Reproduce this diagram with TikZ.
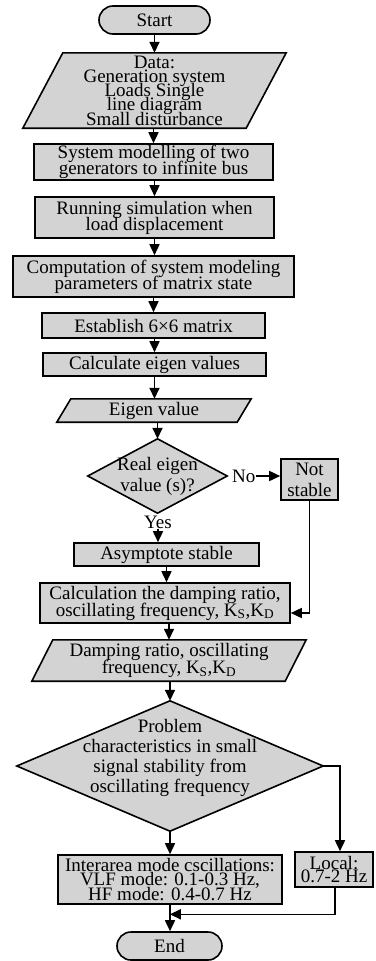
\documentclass[tikz,border=0pt]{standalone}
\usepackage{fontspec}
\setmainfont{Liberation Serif}
\usetikzlibrary{arrows.meta,backgrounds,calc}
\definecolor{boxgray}{HTML}{D3D3D3}
\newcommand{\fs}[1]{\fontsize{19}{#1}\selectfont\lineskiplimit=-40pt\lineskip=0pt}
\begin{document}
\begin{tikzpicture}[x=1pt,y=-1pt,
  every node/.style={font=\fs{16}},
  box/.style={draw, fill=boxgray, line width=1.6pt, inner sep=0pt, align=center, rectangle},
  term/.style={box, rounded corners=14pt},
  holder/.style={inner sep=0pt, align=center, rectangle},
  shp/.style={draw, fill=boxgray, line width=1.6pt, line join=miter},
  arr/.style={line width=1.6pt, -{Triangle[length=11pt,width=10pt]}},
  lbl/.style={inner sep=0pt}
]
\useasboundingbox (0,0) rectangle (375,961);

% nodes
\node[term, minimum width=111pt, minimum height=28pt] (start) at (154.5,20) {Start};
\node[holder, minimum width=263pt, minimum height=75pt, font=\fs{14.3}] (data) at (154.5,90.5)
  {Data:\\Generation system\\Loads Single\\line diagram\\Small disturbance};
\node[box, minimum width=239pt, minimum height=36pt] (b1) at (153.5,162)
  {System modelling of two\\generators to infinite bus};
\node[box, minimum width=239pt, minimum height=41pt] (b2) at (154.5,217.5)
  {Running simulation when\\load displacement};
\node[box, minimum width=281pt, minimum height=41pt] (b3) at (153.5,276.5)
  {Computation of system modeling\\parameters of matrix state};
\node[box, minimum width=223pt, minimum height=25pt] (b4) at (153.5,325.5)
  {Establish 6×6 matrix};
\node[box, minimum width=223pt, minimum height=23pt] (b5) at (154.5,364.5)
  {Calculate eigen values};
\node[holder, minimum width=194pt, minimum height=23pt] (eig) at (154,410.5)
  {Eigen value};
\node[holder, minimum width=139pt, minimum height=74pt, font=\fs{21}] (d1) at (157.5,476)
  {Real eigen\\value (s)?};
\node[lbl, anchor=west] (no) at (232,476) {No};
\node[box, minimum width=57pt, minimum height=41pt, font=\fs{21}] (ns) at (309.5,479.5)
  {Not\\stable};
\node[lbl] (yes) at (158,522) {Yes};
\node[box, minimum width=185pt, minimum height=23pt] (asym) at (166.5,554.5)
  {Asymptote stable};
\node[box, minimum width=250pt, minimum height=40pt, font=\fs{17}] (calc) at (165,603)
  {Calculation the damping ratio,\\oscillating frequency, K\textsubscript{S},K\textsubscript{D}};
\node[holder, minimum width=274pt, minimum height=41pt, font=\fs{17}] (damp) at (169,660.5)
  {Damping ratio, oscillating\\frequency, K\textsubscript{S},K\textsubscript{D}};
\node[holder, minimum width=306pt, minimum height=130pt] (d2) at (170,766) {};
\node[box, minimum width=224pt, minimum height=49pt, font=\fs{14.5}] (inter) at (170,879.5)
  {Interarea mode cscillations:\\VLF mode: 0.1-0.3 Hz,\\HF mode: 0.4-0.7 Hz};
\node[box, minimum width=78pt, minimum height=35pt, font=\fs{13.5}] (local) at (334,869.5)
  {Local:\\0.7-2 Hz};
\node[term, minimum width=105pt, minimum height=28pt] (end) at (169.5,946) {End};

% shapes drawn behind text
\begin{scope}[on background layer]
  \draw[shp] ([xshift=40pt]data.north west) -- (data.north east)
     -- ([xshift=-40pt]data.south east) -- (data.south west) -- cycle;
  \draw[shp] ([xshift=14pt]eig.north west) -- (eig.north east)
     -- ([xshift=-14pt]eig.south east) -- (eig.south west) -- cycle;
  \draw[shp] ([xshift=21pt]damp.north west) -- (damp.north east)
     -- ([xshift=-21pt]damp.south east) -- (damp.south west) -- cycle;
  \draw[shp] (d1.north) -- (d1.east) -- (d1.south) -- (d1.west) -- cycle;
  \draw[shp] (d2.north) -- (d2.east) -- (d2.south) -- (d2.west) -- cycle;
\end{scope}
\node[holder, font=\fs{20}] (d2t) at (170,758)
  {Problem\\characteristics in small\\signal stability from\\oscillating frequency};

% connectors
\draw[arr] (start.south) -- (start.south |- data.north);
\draw[arr] (data.south -| b1.north) -- (b1.north);
\draw[arr] (b1.south -| b2.north) -- (b2.north);
\draw[arr] (b2.south) -- (b2.south |- b3.north);
\draw[arr] (b3.south) -- (b3.south |- b4.north);
\draw[arr] (b4.south -| b5.north) -- (b5.north);
\draw[arr] (b5.south) -- (b5.south |- eig.north);
\draw[arr] (eig.south -| d1.north) -- (d1.north);
\draw[arr] (no.east) -- (no.east -| ns.west);
\draw[arr] (yes.south) -- (yes.south |- asym.north);
\draw[arr] (ns.south) |- ([yshift=-10pt]calc.east);
\draw[arr] (asym.south) -- (asym.south |- calc.north);
\draw[arr] (damp.north |- calc.south) -- (damp.north);
\draw[arr] (damp.south -| d2.north) -- (d2.north);
\draw[arr] (d2.south) -- (inter.north);
\draw[arr] (d2.east) -| ([xshift=6pt]local.north);
\draw[arr] (inter.south) -- (inter.south |- end.north);
\draw[arr] ([xshift=1pt]local.south) |- ($(inter.south)!0.36!(end.north)$);
\end{tikzpicture}
\end{document}
